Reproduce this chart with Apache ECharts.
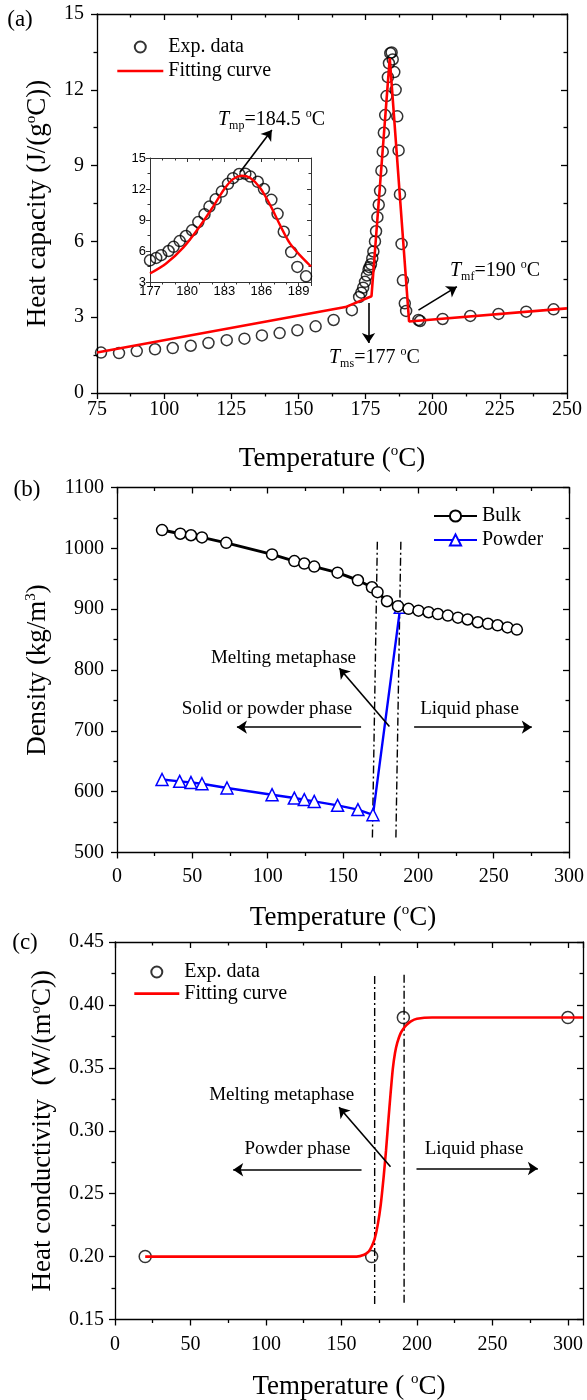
<!DOCTYPE html>
<html><head><meta charset="utf-8">
<script src="https://cdn.jsdelivr.net/npm/echarts@6/dist/echarts.min.js"></script>
<style>html,body{margin:0;padding:0;background:#fff}#c{width:587px;height:1400px}</style>
</head><body><div id="c"></div>
<script>
// ---------- Panel (a): heat capacity ----------
const capTemp = [76.5,83.2,89.8,96.6,103.2,109.9,116.5,123.3,129.9,136.4,143.0,149.6,156.4,163.1,169.9,
  172.6,173.4,174.1,174.8,175.5,176.1,176.5,177.0,177.5,177.9,178.5,178.9,179.4,179.9,180.4,180.9,181.4,
  181.8,182.3,182.8,183.3,183.7,184.2,184.7,185.1,185.7,186.2,186.8,187.3,187.8,188.4,188.9,189.6,190.1,
  194.7,195.3,203.7,214.0,224.5,234.8,245.0];
const capValue = [1.60,1.58,1.66,1.73,1.78,1.87,1.98,2.09,2.15,2.28,2.37,2.48,2.64,2.89,3.28,
  3.80,3.97,4.17,4.40,4.65,4.88,4.98,5.10,5.33,5.60,6.00,6.40,6.96,7.45,8.00,8.80,9.55,
  10.30,11.00,11.75,12.50,13.05,13.45,13.48,13.20,12.70,12.00,10.95,9.60,7.86,5.90,4.46,3.55,3.25,
  2.89,2.85,2.93,3.05,3.13,3.22,3.31];
const capFitTemp = [75, 167.5, 177.2, 184.0, 191.2, 250];
const capFitValue = [1.60, 3.40, 3.83, 13.25, 2.83, 3.35];
const insetFitTemp = [177,178.3,179.7,181.0,182.1,183.0,183.7,184.4,185.1,185.9,186.7,187.5,188.3,189.1,190];
const insetFitValue = [3.82,4.79,6.35,8.35,10.3,12.0,12.96,13.28,13.06,12.1,10.46,8.5,6.73,5.6,4.5];
const capXTicks = [75,100,125,150,175,200,225,250];
const capYTicks = [0,3,6,9,12,15];
const insetXTicks = [177,180,183,186,189];
const insetYTicks = [3,6,9,12,15];

// ---------- Panel (b): density ----------
const bulkTemp = [29.9,42.0,49.1,56.4,72.5,102.9,117.7,124.3,130.9,146.4,159.9,169.2,172.9,179.2,186.5,
  193.5,200.1,206.8,213.0,219.6,226.3,232.7,239.5,246.2,252.6,259.2,265.4];
const bulkDensity = [1030,1024,1021.5,1018,1009,990,979,975,970,960,947.5,936,928,913,905,
  900.5,897.5,895,892,889.5,886,883,878.5,876,873.5,870,866.5];
const powderTemp = [29.9,41.6,49.1,56.4,73.0,102.9,117.7,124.3,130.9,146.4,159.9,169.9,188.0];
const powderDensity = [620,617,615,613,606,595,589.5,587,584,577.5,570.5,562,903];
const denXTicks = [0,50,100,150,200,250,300];
const denYTicks = [500,600,700,800,900,1000,1100];

// ---------- Panel (c): heat conductivity ----------
const condTemp = [20,170,191,300];
const condValue = [0.20,0.20,0.39,0.39];
const condFitTemp = [20,150,160,165,168,170,172,174,176,178,179.5,181,182.5,184,185.5,187,189,191,193,196,200,210,310];
const condFitValue = [0.2,0.2,0.2,0.2015,0.204,0.208,0.214,0.225,0.241,0.264,0.284,0.307,0.329,0.349,0.362,0.370,0.377,0.381,0.384,0.387,0.389,0.39,0.39];
const conXTicks = [0,50,100,150,200,250,300];
const conYTicks = [0.15,0.20,0.25,0.30,0.35,0.40,0.45];

// ---------- annotation geometry (data units) ----------
const capArrows = [[[128.3,8.75],[140.1,10.41]],[[176.1,3.56],[176.1,1.98]],[[194.7,3.28],[209.0,4.21]]];
const denGuides = [[[172.8,1011],[169.5,522]],[[188.4,1011],[185.1,522]]];
const denArrows = [[[180.8,707],[147.6,803]],[[162,706],[79.6,706]],[[197.2,706],[275.3,706]]];
const conGuides = [[[172,0.423],[172,0.161]],[[191.5,0.424],[191.5,0.162]]];
const conArrows = [[[182.5,0.2714],[148.4,0.3186]],[[163.3,0.269],[78.3,0.269]],[[199.7,0.270],[280.1,0.270]]];

const zip = (a,b) => a.map((v,i)=>[v,b[i]]);
const SERIF = '"Liberation Serif","Times New Roman",serif';
const SANS = '"Liberation Sans",Arial,sans-serif';
const BLK = '#000';

const xAxes = [], yAxes = [];
function frame(gi, xt, yt, o) {
  const lc = {color:o.lc, width:o.lw};
  const xr = {min:xt[0], max:o.xmax!==undefined?o.xmax:xt[xt.length-1], interval:xt[1]-xt[0]};
  const yr = {min:yt[0], max:yt[yt.length-1], interval:+(yt[1]-yt[0]).toFixed(6)};
  const ax = (r, pos, main, isX) => ({
    type:'value', gridIndex:gi, min:r.min, max:r.max, interval:r.interval, position:pos,
    axisLine:{show:true,onZero:false,lineStyle:lc},
    axisTick:{show:true,inside:!main,length:o.tl,lineStyle:lc},
    minorTick:{show:true,splitNumber:isX?o.xMinor:o.yMinor,length:o.ml,lineStyle:lc},
    splitLine:{show:false}, minorSplitLine:{show:false},
    axisLabel:{show:main, margin:isX?o.xm:o.ym, fontFamily:o.font, fontSize:o.fs, color:BLK,
      showMaxLabel: isX && o.xmax!==undefined ? false : null,
      formatter: (!isX && o.yfmt) ? o.yfmt : (v => String(v))},
    name: main ? (isX?o.xName:o.yName) : '',
    nameLocation:'middle', nameGap: isX?o.xGap:o.yGap,
    nameTextStyle:{fontFamily:SERIF, fontSize:27, color:BLK, lineHeight:30,
      rich:{sup:{fontFamily:SERIF,fontSize:15,lineHeight:15,verticalAlign:'top',color:BLK}}}
  });
  const xi = xAxes.length, yi = yAxes.length;
  xAxes.push(ax(xr,'bottom',true,true), ax(xr,'top',false,true));
  yAxes.push(ax(yr,'left',true,false), ax(yr,'right',false,false));
  return {x:xi, y:yi};
}
const base = {font:SERIF, fs:20, lc:BLK, lw:1.3, tl:6, ml:3.5, xMinor:2, yMinor:2};
const A = frame(0, capXTicks, capYTicks, Object.assign({}, base, {xm:7, ym:13,
  xName:'Temperature ({sup|o}C)', xGap:51, yName:'Heat capacity (J/(g{sup|o}C))', yGap:40}));
const I = frame(1, insetXTicks, insetYTicks, {font:SANS, fs:13, lc:'#333', lw:1, tl:4, ml:2.5, xMinor:3, yMinor:2,
  xm:3, ym:4, xmax:190, xName:'', yName:''});
const B = frame(2, denXTicks, denYTicks, Object.assign({}, base, {xm:14, ym:13,
  xName:'Temperature ({sup|o}C)', xGap:50, yName:'Density (kg/m{sup|3})', yGap:48}));
const C = frame(3, conXTicks, conYTicks, Object.assign({}, base, {xm:15, ym:11, xmax:310,
  yfmt:v=>v.toFixed(2), xName:'Temperature ( {sup|o}C)', xGap:52, yName:'Heat conductivity  (W/(m{sup|o}C))', yGap:50}));

const arrowML = (arr) => ({
  silent:true, symbol:['none','arrow'], symbolSize:10, precision:4,
  label:{show:false}, emphasis:{disabled:true},
  lineStyle:{color:BLK, width:1.6, type:'solid'},
  data: arr.map(p => [{coord:p[0]},{coord:p[1]}])
});
const guide = (ax, p) => ({
  type:'line', xAxisIndex:ax.x, yAxisIndex:ax.y, data:p, symbol:'none', silent:true, z:2,
  lineStyle:{color:BLK, width:1.4, type:[8,3,2,3]}
});
const hollow = {color:'rgba(0,0,0,0)', borderColor:BLK, borderWidth:1.5};

const series = [
  {name:'Exp. data', type:'scatter', xAxisIndex:A.x, yAxisIndex:A.y, data:zip(capTemp,capValue),
    symbol:'circle', symbolSize:11, itemStyle:hollow, z:3, silent:true},
  {name:'Fitting curve', type:'line', xAxisIndex:A.x, yAxisIndex:A.y, data:zip(capFitTemp,capFitValue),
    symbol:'none', lineStyle:{color:'#ff0000', width:2.6}, itemStyle:{color:'#ff0000'}, z:4, silent:true,
    markLine: arrowML(capArrows)},
  {name:'inset data', type:'scatter', xAxisIndex:I.x, yAxisIndex:I.y, data:zip(capTemp,capValue),
    symbol:'circle', symbolSize:11, itemStyle:hollow, z:3, clip:true, silent:true},
  {name:'inset fit', type:'line', xAxisIndex:I.x, yAxisIndex:I.y, data:zip(insetFitTemp,insetFitValue),
    symbol:'none', smooth:0.3, lineStyle:{color:'#ff0000', width:2.4}, z:4, clip:true, silent:true},

  {name:'Bulk', type:'line', xAxisIndex:B.x, yAxisIndex:B.y, data:zip(bulkTemp,bulkDensity),
    symbol:'circle', symbolSize:11, showAllSymbol:true, lineStyle:{color:BLK, width:3},
    itemStyle:{color:'#fff', borderColor:BLK, borderWidth:1.5}, z:4, silent:true},
  {name:'Powder', type:'line', xAxisIndex:B.x, yAxisIndex:B.y, data:zip(powderTemp,powderDensity),
    symbol:'triangle', symbolSize:12, showAllSymbol:true, lineStyle:{color:'#0000ff', width:2.4},
    itemStyle:{color:'#fff', borderColor:'#0000ff', borderWidth:1.5}, z:3, silent:true},
  Object.assign(guide(B, denGuides[0]), {markLine: arrowML(denArrows)}),
  guide(B, denGuides[1]),

  {name:'Exp. data', type:'scatter', xAxisIndex:C.x, yAxisIndex:C.y, data:zip(condTemp,condValue),
    symbol:'circle', symbolSize:12, itemStyle:hollow, z:3, silent:true},
  {name:'Fitting curve', type:'line', xAxisIndex:C.x, yAxisIndex:C.y, data:zip(condFitTemp,condFitValue),
    symbol:'none', smooth:0.2, lineStyle:{color:'#ff0000', width:2.6}, itemStyle:{color:'#ff0000'}, z:4, silent:true},
  Object.assign(guide(C, conGuides[0]), {markLine: arrowML(conArrows)}),
  guide(C, conGuides[1])
];

const legTxt = {fontFamily:SERIF, fontSize:20, color:BLK, lineHeight:20};
const fitItem = {name:'Fitting curve', itemStyle:{opacity:0}, lineStyle:{color:'#ff0000', width:2.6, opacity:1}};
const legend = [
  {orient:'vertical', left:116, top:37, padding:0, itemWidth:46, itemHeight:11, itemGap:4,
    selectedMode:false, data:['Exp. data', fitItem], textStyle:legTxt},
  {orient:'vertical', left:433, top:506, padding:0, itemWidth:43, itemHeight:14, itemGap:4,
    selectedMode:false, data:['Bulk','Powder'], textStyle:legTxt},
  {orient:'vertical', left:133, top:962, padding:0, itemWidth:45, itemHeight:11, itemGap:1.6,
    selectedMode:false, data:['Exp. data', fitItem], textStyle:legTxt}
];

const rich = {
  n:{fontFamily:SERIF, fontSize:20, lineHeight:24, color:BLK},
  i:{fontFamily:SERIF, fontSize:20, lineHeight:24, fontStyle:'italic', color:BLK},
  sub:{fontFamily:SERIF, fontSize:12, lineHeight:11, verticalAlign:'bottom', color:BLK},
  sup:{fontFamily:SERIF, fontSize:12, lineHeight:12, verticalAlign:'top', color:BLK}
};
const txt = (x, y, t, size, align) => ({type:'text', x:x, y:y, silent:true, z:100,
  style:{text:t, fontFamily:SERIF, fontSize:size||19, fill:BLK, align:align||'center', verticalAlign:'middle'}});
const rtxt = (x, y, t) => ({type:'text', x:x, y:y, silent:true, z:100,
  style:{text:t, rich:rich, fontFamily:SERIF, fontSize:20, fill:BLK, align:'left', verticalAlign:'middle'}});

const graphic = [
  txt(20, 20, '(a)', 23), txt(27, 490, '(b)', 23), txt(25, 943, '(c)', 23),
  rtxt(218, 120, '{i|T}{sub|mp}{n|=184.5 }{sup|o}{n|C}'),
  rtxt(329, 358, '{i|T}{sub|ms}{n|=177 }{sup|o}{n|C}'),
  rtxt(450, 271, '{i|T}{sub|mf}{n|=190 }{sup|o}{n|C}'),
  txt(283.5, 658, 'Melting metaphase'),
  txt(267, 709, 'Solid or powder phase'),
  txt(469.5, 709, 'Liquid phase'),
  txt(281.7, 1095, 'Melting metaphase'),
  txt(297.5, 1149, 'Powder phase'),
  txt(474, 1149, 'Liquid phase')
];

const option = {
  animation:false, backgroundColor:'#fff',
  textStyle:{fontFamily:SERIF},
  grid:[
    {left:97, top:14, width:470, height:379, outerBoundsMode:'none'},
    {left:150, top:158, width:161, height:124, outerBoundsMode:'none'},
    {left:117, top:487.5, width:452, height:365, outerBoundsMode:'none'},
    {left:115, top:942, width:468, height:377.5, outerBoundsMode:'none'}
  ],
  xAxis:xAxes, yAxis:yAxes, legend:legend, series:series, graphic:graphic
};
const chart = echarts.init(document.getElementById('c'), null, {renderer:'canvas', width:587, height:1400});
chart.setOption(option);
</script>
</body></html>
